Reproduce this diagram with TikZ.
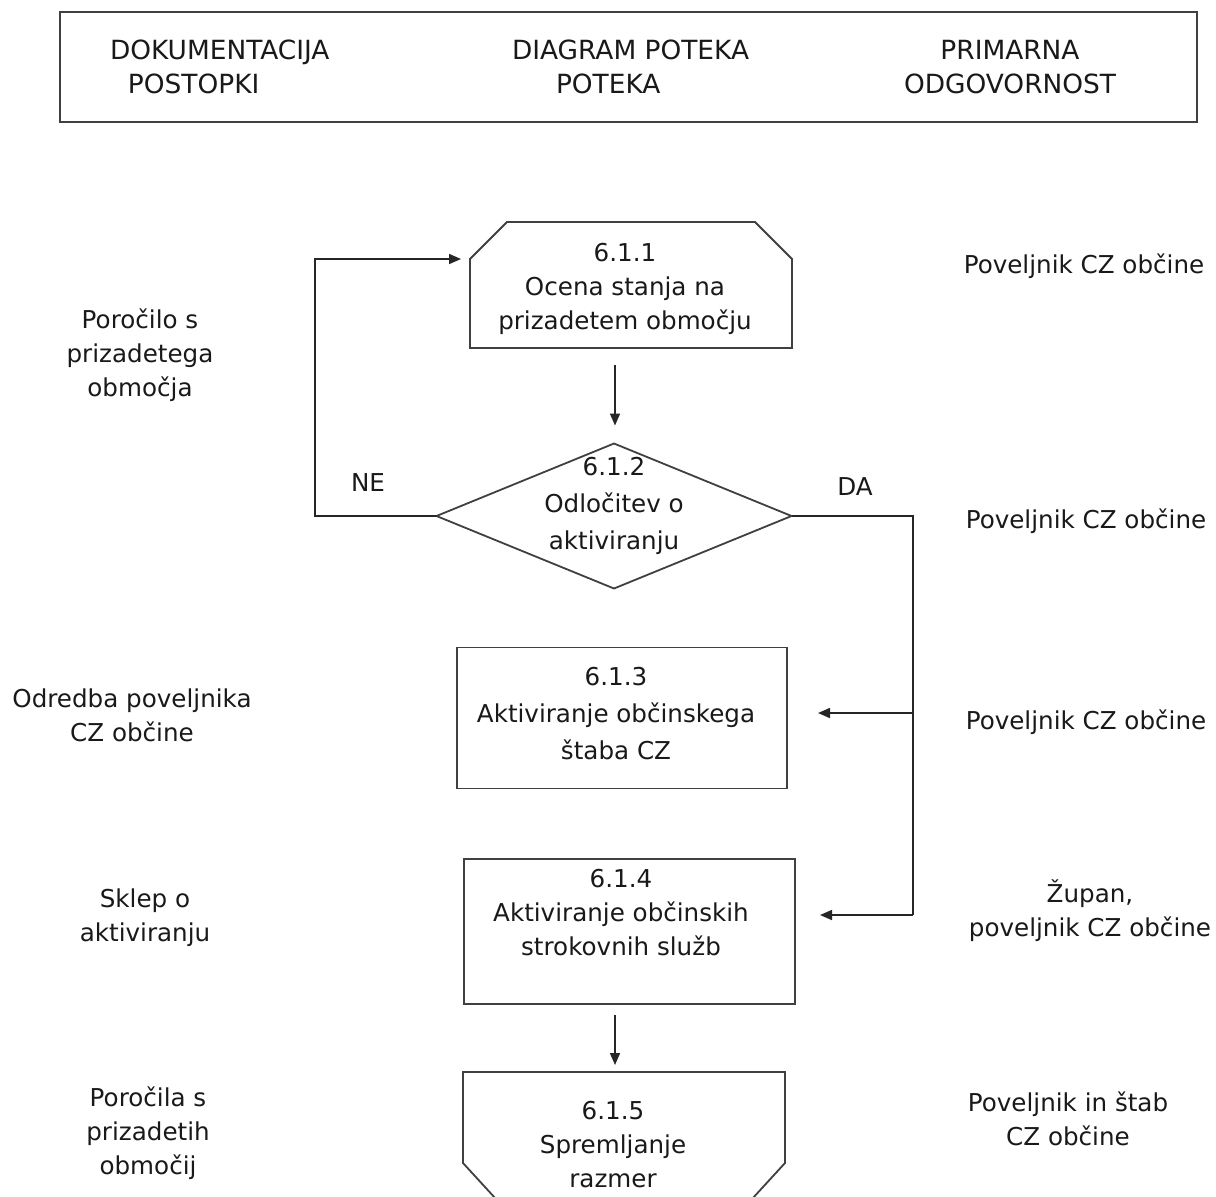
\documentclass[tikz,border=0pt]{standalone}
\usepackage{fontspec}
\setmainfont{DejaVu Sans}
\usetikzlibrary{shapes.geometric,arrows.meta,calc}
\begin{document}
\begin{tikzpicture}[x=0.5pt,y=-0.5pt,
  txt/.style={font=\fontsize{12.3}{17}\selectfont, align=center, inner sep=0pt, outer sep=0pt, text=black!90},
  htxt/.style={txt, font=\fontsize{13.2}{17}\selectfont},
  outl/.style={draw=black!75, line width=0.9pt},
  conn/.style={draw=black!85, line width=0.8pt},
  arr/.style={conn, -{Triangle[length=6pt,width=5pt]}},
  boxn/.style={outl, inner sep=0pt, outer sep=0pt},
]
\useasboundingbox (0,0) rectangle (1216,1196);
\clip (0,0) rectangle (1216,1196);
\fill[white] (0,0) rectangle (1216,1196);

% header
\node[boxn, minimum width=568.5pt, minimum height=55pt, anchor=north west] (hdr) at (60,12) {};
\node[htxt, align=left, anchor=west] (h1) at (110,67) {DOKUMENTACIJA\\\hspace*{9pt}POSTOPKI};
\node[htxt, align=left, anchor=west] (h2) at (512,67) {DIAGRAM POTEKA\\\hspace*{22pt}POTEKA};
\node[htxt] (h3) at (1010,67) {PRIMARNA\\ODGOVORNOST};

% shape 1 (chamfered top)
\node[boxn, draw=none, minimum width=161pt, minimum height=63pt] (s1) at (631,285) {};
\draw[outl] (s1.south west) -- ($(s1.north west)+(0,37)$) -- ($(s1.north west)+(37,0)$)
  -- ($(s1.north east)+(-37,0)$) -- ($(s1.north east)+(0,37)$) -- (s1.south east) -- cycle;
\node[txt] (s1t) at (625,289) {6.1.1\\Ocena stanja na\\prizadetem območju};

% decision
\node[diamond, boxn, minimum width=177.5pt, minimum height=72.5pt] (d) at (614,516) {};
\node[txt, font=\fontsize{12.3}{18.5}\selectfont] (dt) at (614,506) {6.1.2\\Odločitev o\\aktiviranju};

% box 3
\node[boxn, minimum width=165pt, minimum height=70.5pt] (b3) at (622,718) {};
\node[txt, font=\fontsize{12.3}{18.5}\selectfont] (b3t) at (616,714) {6.1.3\\Aktiviranje občinskega\\štaba CZ};

% box 4
\node[boxn, minimum width=165.5pt, minimum height=72.5pt] (b4) at (629.5,931.5) {};
\node[txt] (b4t) at (621,913) {6.1.4\\Aktiviranje občinskih\\strokovnih služb};

% shape 5 (chamfered bottom, cut off)
\node[boxn, draw=none, minimum width=161pt, minimum height=60pt, anchor=north] (s5) at (624,1072) {};
\draw[outl] (s5.north west) -- (s5.north east) -- (785,1163) -- (730,1223)
  -- (518,1223) -- (463,1163) -- cycle;
\node[txt] (s5t) at (613,1145) {6.1.5\\Spremljanje\\razmer};

% connectors
\coordinate (ax) at (615,0);
\draw[arr, shorten <=8.5pt, shorten >=9pt] (s1.south -| ax) -- (d.north -| ax);
\draw[arr, shorten <=5.5pt, shorten >=3.5pt] (b4.south -| ax) -- (s5.north -| ax);

\coordinate (nec) at (315,516);
\draw[arr, shorten >=4.5pt] (d.west) -- (nec) |- ($(s1.north west)+(0,37)$);

\coordinate (dac) at (913,516);
\coordinate (j3) at (913,713);
\coordinate (j4) at (913,915);
\draw[conn] (d.east) -- (dac) -- (j4);
\draw[arr, shorten >=15.5pt] (j3) -- (j3 -| b3.east);
\draw[arr, shorten >=12.5pt] (j4) -- (j4 -| b4.east);

\node[txt] (ne) at (368,483) {NE};
\node[txt] (da) at (855,487) {DA};

% left column
\node[txt] (l1) at (140,355) {Poročilo s\\prizadetega\\območja};
\node[txt] (l2) at (132,715) {Odredba poveljnika\\CZ občine};
\node[txt] (l3) at (145,918) {Sklep o\\aktiviranju};
\node[txt] (l4) at (148,1133) {Poročila s\\prizadetih\\območij};

% right column
\node[txt] (r1) at (1084,266) {Poveljnik CZ občine};
\node[txt] (r2) at (1086,521) {Poveljnik CZ občine};
\node[txt] (r3) at (1086,722) {Poveljnik CZ občine};
\node[txt] (r4) at (1090,911) {Župan,\\poveljnik CZ občine};
\node[txt] (r5) at (1068,1119) {Poveljnik in štab\\CZ občine};
\end{tikzpicture}
\end{document}
